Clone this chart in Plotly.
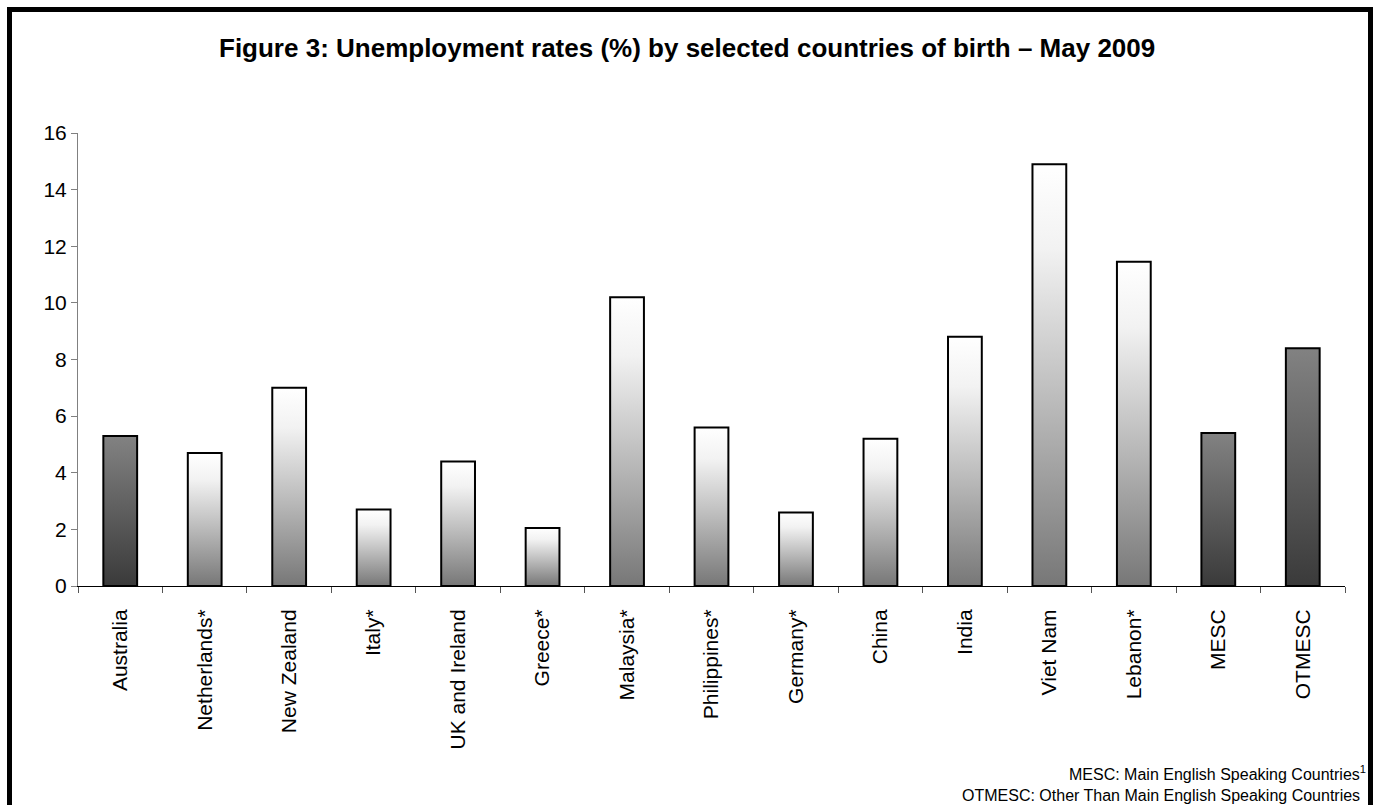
import plotly.graph_objects as go

countries = ["Australia", "Netherlands*", "New Zealand", "Italy*", "UK and Ireland",
             "Greece*", "Malaysia*", "Philippines*", "Germany*", "China", "India",
             "Viet Nam", "Lebanon*", "MESC", "OTMESC"]
rates = [5.3, 4.7, 7.0, 2.7, 4.4, 2.05, 10.2, 5.6, 2.6, 5.2, 8.8, 14.9, 11.45, 5.4, 8.4]
dark_group = ["Australia", "MESC", "OTMESC"]

W, H = 1376, 805
FONT = "Liberation Sans, Arial, sans-serif"
BAR_W = 0.4

light_scale = [[0, "#777777"], [0.45, "#bdbdbd"], [0.8, "#f2f2f2"], [1, "#ffffff"]]
dark_scale = [[0, "#3a3a3a"], [1, "#828282"]]

fig = go.Figure()
for i, (c, v) in enumerate(zip(countries, rates)):
    x0, x1 = i - BAR_W / 2, i + BAR_W / 2
    fig.add_trace(go.Scatter(
        x=[x0, x0, x1, x1, x0], y=[0, v, v, 0, 0],
        mode="lines", fill="toself",
        fillgradient=dict(type="vertical",
                          colorscale=dark_scale if c in dark_group else light_scale),
        line=dict(color="black", width=2),
        hoverinfo="text", text=f"{c}: {v}", showlegend=False,
    ))

px_l, px_r, px_top, px_bot = 78, 1345, 133, 586
fig.update_layout(
    width=W, height=H, margin=dict(l=0, r=0, t=0, b=0),
    paper_bgcolor="white", plot_bgcolor="white",
    font=dict(family=FONT, size=21, color="black"),
    xaxis=dict(domain=[px_l / W, px_r / W], range=[-0.5, len(countries) - 0.5],
               tickvals=list(range(len(countries))), ticktext=countries,
               tickangle=-90, ticks="", ticklabelstandoff=14,
               tickfont=dict(size=21), showgrid=False, zeroline=False,
               showline=True, linecolor="black", linewidth=1,
               minor=dict(tickvals=[k - 0.5 for k in range(len(countries) + 1)],
                          ticks="outside", ticklen=6, tickcolor="#555", showgrid=False),
               automargin=False, fixedrange=True),
    yaxis=dict(domain=[(H - px_bot) / H, (H - px_top) / H], range=[0, 16], dtick=2,
               ticks="outside", ticklen=6, tickcolor="#808080", tickfont=dict(size=21),
               showline=True, linecolor="#808080", linewidth=1,
               showgrid=False, zeroline=False, automargin=False, fixedrange=True),
    shapes=[dict(type="rect", xref="paper", yref="paper",
                 x0=9.5 / W, x1=1370.5 / W, y0=-0.05, y1=1 - 9.5 / H,
                 line=dict(color="black", width=5))],
    annotations=[
        dict(text="<b>Figure 3: Unemployment rates (%) by selected countries of birth – May 2009</b>",
             xref="paper", yref="paper", x=687 / W, y=1 - 48 / H, xanchor="center", yanchor="middle",
             showarrow=False, font=dict(size=26)),
        dict(text="MESC: Main English Speaking Countries<sup>1</sup>",
             xref="paper", yref="paper", x=1368 / W, y=1 - 773 / H, xanchor="right", yanchor="middle",
             showarrow=False, font=dict(size=16)),
        dict(text="OTMESC: Other Than Main English Speaking Countries",
             xref="paper", yref="paper", x=1362 / W, y=1 - 795 / H, xanchor="right", yanchor="middle",
             showarrow=False, font=dict(size=16)),
    ],
)
fig.write_html("out.html")
